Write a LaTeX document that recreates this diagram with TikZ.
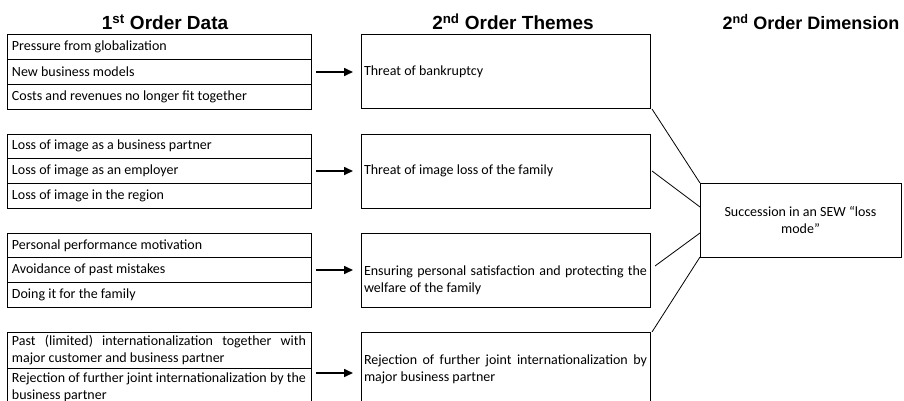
\documentclass[tikz,border=0pt]{standalone}
\usepackage{fontspec}
\setmainfont{Carlito}
\newfontfamily\headfont{Liberation Sans}
\usetikzlibrary{positioning, arrows.meta}
\hyphenpenalty=10000

\begin{document}
\begin{tikzpicture}[
      x=1pt, y=-1pt,
      node distance=0pt,
      every node/.style={font=\fontsize{14}{17}\selectfont},
      head/.style={font=\headfont\bfseries\fontsize{19}{21}\selectfont, anchor=base},
      item/.style={draw, line width=1pt, outer sep=0pt, minimum width=304pt, minimum height=24.67pt, text width=294pt, inner xsep=5pt, inner ysep=2pt, align=justify},
      theme/.style={draw, line width=1pt, outer sep=0pt, minimum width=289pt, minimum height=74pt, text width=283pt, inner xsep=3pt, inner ysep=2pt, align=justify},
      dim/.style={draw, line width=1pt, outer sep=0pt, minimum width=201pt, minimum height=74pt, align=center},
      lnk/.style={line width=0.8pt},
      arr/.style={-{Triangle[length=9pt, width=8pt]}, line width=1.6pt, shorten <=5pt, shorten >=8pt}]
    \useasboundingbox (0,0) rectangle (904,401);

    %% headings:
    \node[head] (hdata) at (165,30) {1\textsuperscript{st} Order Data};
    \node[head] (hthemes) at (513,30) {2\textsuperscript{nd} Order Themes};
    \node[head, anchor=base east, font=\headfont\bfseries\fontsize{18}{21}\selectfont] (hdim) at (903,30) {2\textsuperscript{nd} Order Dimension};

    %% 1st order data:
    \node[item, anchor=north west] (d11) at (7,35) {Pressure from globalization};
    \node[item] (d12) [below=of d11] {New business models};
    \node[item] (d13) [below=of d12] {Costs and revenues no longer fit together};

    \node[item, anchor=north west] (d21) at (7,134) {Loss of image as a business partner};
    \node[item] (d22) [below=of d21] {Loss of image as an employer};
    \node[item] (d23) [below=of d22] {Loss of image in the region};

    \node[item, anchor=north west] (d31) at (7,233) {Personal performance motivation};
    \node[item] (d32) [below=of d31] {Avoidance of past mistakes};
    \node[item] (d33) [below=of d32] {Doing it for the family};

    \node[item, anchor=north west, minimum height=36pt] (d41) at (7,332) {Past (limited) internationalization together with major customer and business partner};
    \node[item, minimum height=38pt] (d42) [below=of d41] {Rejection of further joint internationalization by the business partner}; % runs off the page

    %% 2nd order themes:
    \node[theme, anchor=north west] (th1) at (361,35) {Threat of bankruptcy};
    \node[theme, anchor=north west] (th2) at (361,134) {Threat of image loss of the family};
    \node[theme, anchor=north west] (th3) at (361,233) {\rule{0pt}{30pt}Ensuring personal satisfaction and protecting the welfare of the family};
    \node[theme, anchor=north west] (th4) at (361,332) {Rejection of further joint internationalization by major business partner};

    %% 2nd order dimension:
    \node[dim] (sew) at (800.5,220) {Succession in an SEW “loss\\mode”};

    \draw[arr] (d12.east) -- (th1.west);
    \draw[arr] (d22.east) -- (th2.west);
    \draw[arr] (d32.east) -- (th3.west);
    \coordinate (a4) at ([yshift=-4pt]th4.west);
    \draw[arr] (d42.east |- a4) -- (a4);

    \draw[lnk] ([xshift=2pt]th1.south east) -- (sew.north west);
    \draw[lnk] ([xshift=2pt]th2.east) -- ([yshift=13pt]sew.west);
    \draw[lnk] ([xshift=5pt, yshift=4pt]th3.east) -- ([yshift=-13pt]sew.west);
    \draw[lnk] ([xshift=2pt]th4.north east) -- (sew.south west);
\end{tikzpicture}
\end{document}
